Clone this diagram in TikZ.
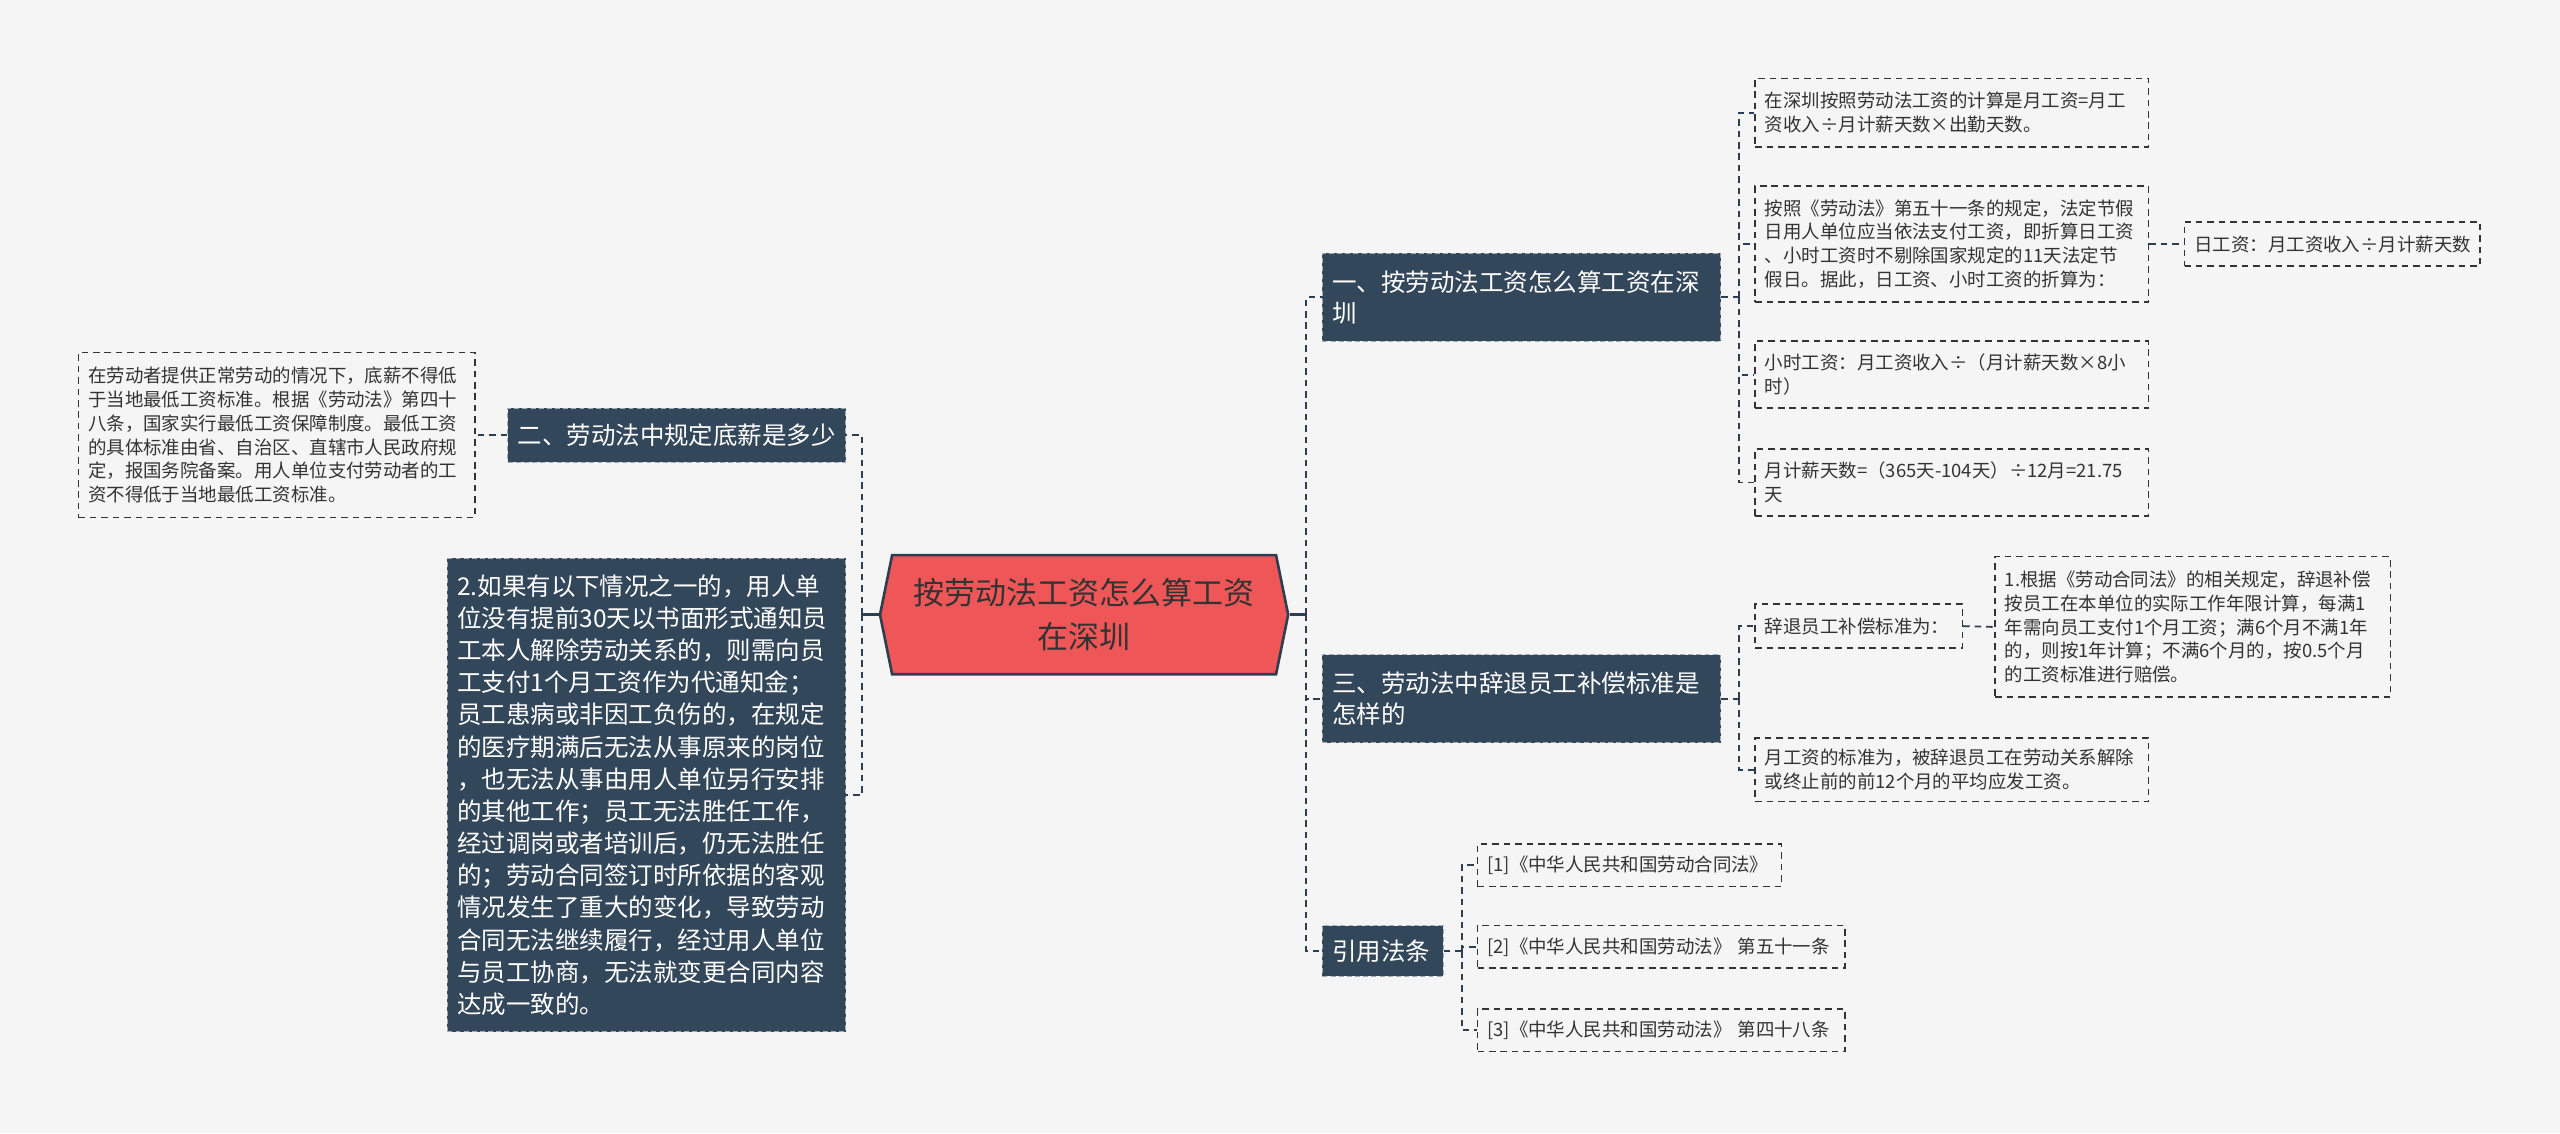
\documentclass[tikz,border=0pt]{standalone}
\usepackage{fontspec}
\setmainfont{Noto Sans CJK SC}
\usepackage{tikz}
\usetikzlibrary{shapes.symbols}

\definecolor{bgcol}{HTML}{F5F5F5}
\definecolor{rootred}{HTML}{EF5657}
\definecolor{topicblue}{HTML}{33475B}
\definecolor{linedark}{HTML}{2C3E50}
\definecolor{textdark}{HTML}{333333}

\tikzset{
    root/.style={signal, signal to=east and west, signal pointer angle=157,
        fill=rootred, draw=linedark, line width=1.6pt, text=textdark,
        font=\fontsize{19}{27}\selectfont, align=center,
        minimum width=250pt, minimum height=73pt, inner sep=0pt},
    topic/.style={rectangle, fill=topicblue, draw=white!55!topicblue,
        dash pattern=on 3pt off 2pt, line width=0.6pt, text=white,
        font=\fontsize{15}{19}\selectfont, align=left,
        inner xsep=6pt, inner ysep=0pt},
    leaf/.style={rectangle, draw=textdark, dash pattern=on 4pt off 3pt,
        line width=0.9pt, text=textdark,
        font=\fontsize{11.3}{14.6}\selectfont, align=left,
        inner xsep=6pt, inner ysep=0pt},
    link/.style={draw=linedark, dash pattern=on 4pt off 3pt, line width=1.1pt},
    trunk/.style={draw=linedark, line width=1.6pt},
}

\begin{document}
\begin{tikzpicture}[x=1pt, y=-1pt]
        % Background
        \fill[bgcol] (0,0) rectangle (1568,694);
        \useasboundingbox (0,0) rectangle (1568,694);

        % Root
        \node[root] (root) at (664,376.5) {按劳动法工资怎么算工资\\在深圳};

        % Topics
        \node[topic, text width=232pt, minimum height=54pt] (t1) at (932,182) {一、按劳动法工资怎么算工资在深\\圳};
        \node[topic, text width=232pt, minimum height=54pt] (t3) at (932,428) {三、劳动法中辞退员工补偿标准是\\怎样的};
        \node[topic, text width=62pt, minimum height=31pt] (t4) at (847,582.5) {引用法条};
        \node[topic, text width=195pt, minimum height=33pt] (t2) at (414.5,266.5) {二、劳动法中规定底薪是多少};
        \node[topic, font=\fontsize{15}{19.7}\selectfont, text width=232pt, minimum height=290pt] (t5) at (396,487) {2.如果有以下情况之一的，用人单\\位没有提前30天以书面形式通知员\\工本人解除劳动关系的，则需向员\\工支付1个月工资作为代通知金；\\员工患病或非因工负伤的，在规定\\的医疗期满后无法从事原来的岗位\\，也无法从事由用人单位另行安排\\的其他工作；员工无法胜任工作，\\经过调岗或者培训后，仍无法胜任\\的；劳动合同签订时所依据的客观\\情况发生了重大的变化，导致劳动\\合同无法继续履行，经过用人单位\\与员工协商，无法就变更合同内容\\达成一致的。};

        % Leaves
        \node[leaf, text width=231pt, minimum height=101pt] (l0) at (169.5,266.5) {在劳动者提供正常劳动的情况下，底薪不得低\\于当地最低工资标准。根据《劳动法》第四十\\八条，国家实行最低工资保障制度。最低工资\\的具体标准由省、自治区、直辖市人民政府规\\定，报国务院备案。用人单位支付劳动者的工\\资不得低于当地最低工资标准。};
        \node[leaf, text width=229pt, minimum height=42pt] (l11) at (1195.5,69) {在深圳按照劳动法工资的计算是月工资=月工\\资收入÷月计薪天数×出勤天数。};
        \node[leaf, text width=229pt, minimum height=71pt] (l12) at (1195.5,149.5) {按照《劳动法》第五十一条的规定，法定节假\\日用人单位应当依法支付工资，即折算日工资\\、小时工资时不剔除国家规定的11天法定节\\假日。据此，日工资、小时工资的折算为：};
        \node[leaf, text width=169pt, minimum height=27pt] (l121) at (1428.5,149.5) {日工资：月工资收入÷月计薪天数};
        \node[leaf, text width=229pt, minimum height=41pt] (l13) at (1195.5,229.5) {小时工资：月工资收入÷（月计薪天数×8小\\时）};
        \node[leaf, text width=229pt, minimum height=41pt] (l14) at (1195.5,295.5) {月计薪天数=（365天-104天）÷12月=21.75\\天};
        \node[leaf, text width=115pt, minimum height=27pt] (l31) at (1138.5,383.5) {辞退员工补偿标准为：};
        \node[leaf, text width=230pt, minimum height=86pt] (l311) at (1343,384) {1.根据《劳动合同法》的相关规定，辞退补偿\\按员工在本单位的实际工作年限计算，每满1\\年需向员工支付1个月工资；满6个月不满1年\\的，则按1年计算；不满6个月的，按0.5个月\\的工资标准进行赔偿。};
        \node[leaf, text width=229pt, minimum height=39pt] (l32) at (1195.5,471.5) {月工资的标准为，被辞退员工在劳动关系解除\\或终止前的前12个月的平均应发工资。};
        \node[leaf, text width=174pt, minimum height=26pt] (l41) at (998,530) {[1]《中华人民共和国劳动合同法》};
        \node[leaf, text width=213pt, minimum height=26pt] (l42) at (1017.5,580) {[2]《中华人民共和国劳动法》 第五十一条};
        \node[leaf, text width=213pt, minimum height=26pt] (l43) at (1017.5,631) {[3]《中华人民共和国劳动法》 第四十八条};

        % Connectors
        \coordinate (lbus) at (528,376.5);
        \coordinate (rbus) at (800,376.5);
        \draw[trunk] (root.west) -- (lbus);
        \draw[trunk] (root.east) -- (rbus);
        \draw[link] (lbus) |- (t2.east);
        \draw[link] (lbus) |- (t5.east);
        \draw[link] (t2.west) -- (l0.east);
        \foreach \t in {t1,t3,t4}
            \draw[link] (rbus) |- (\t.west);

        \coordinate (b1) at ([xshift=11pt]t1.east);
        \draw[link] (t1.east) -- (b1);
        \foreach \l in {l11,l12,l13,l14}
            \draw[link] (b1) |- (\l.west);
        \draw[link] (l12.east) -- (l121.west);

        \coordinate (b3) at ([xshift=11pt]t3.east);
        \draw[link] (t3.east) -- (b3);
        \foreach \l in {l31,l32}
            \draw[link] (b3) |- (\l.west);
        \draw[link] (l31.east) -- (l311.west);

        \coordinate (b4) at ([xshift=11pt]t4.east);
        \draw[link] (t4.east) -- (b4);
        \foreach \l in {l41,l42,l43}
            \draw[link] (b4) |- (\l.west);
\end{tikzpicture}
\end{document}
